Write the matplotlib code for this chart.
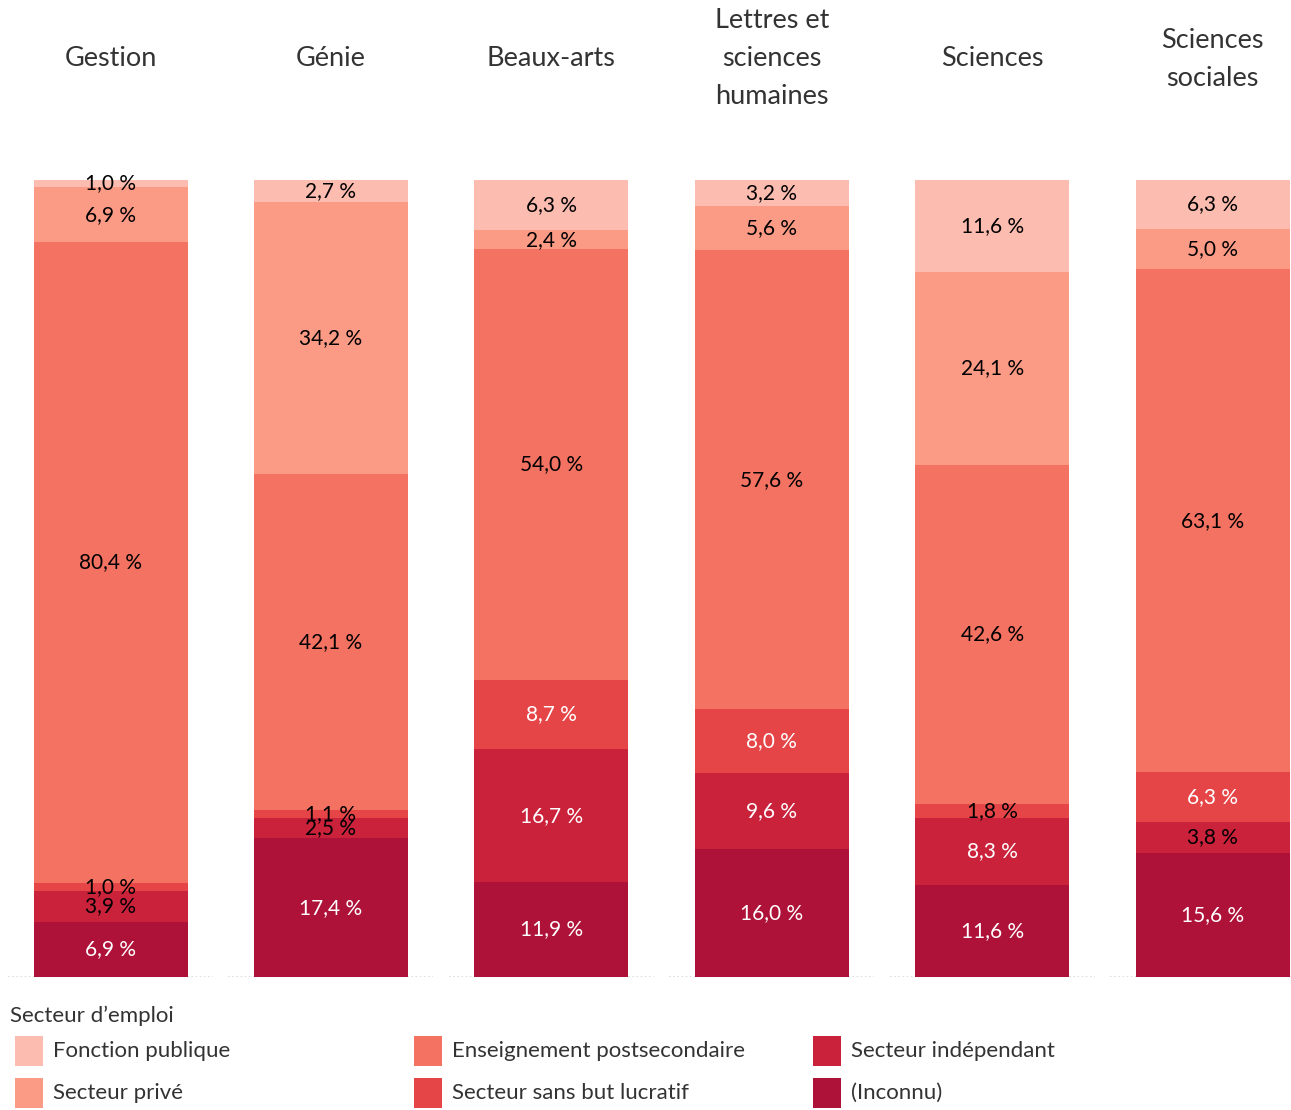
import matplotlib
matplotlib.use("Agg")
import matplotlib.pyplot as plt
from matplotlib.patches import Rectangle

plt.rcParams['font.family'] = ['Lato', 'DejaVu Sans']

# domaines (une colonne par domaine)
domaines = ["Gestion", "Génie", "Beaux-arts", "Lettres et\nsciences\nhumaines",
            "Sciences", "Sciences\nsociales"]

# secteurs, du bas vers le haut de la barre
secteurs = ["(Inconnu)", "Secteur indépendant", "Secteur sans but lucratif",
            "Enseignement postsecondaire", "Secteur privé", "Fonction publique"]

inconnu      = [6.9, 17.4, 11.9, 16.0, 11.6, 15.6]
independant  = [3.9, 2.5, 16.7, 9.6, 8.3, 3.8]
sans_but     = [1.0, 1.1, 8.7, 8.0, 1.8, 6.3]
enseignement = [80.4, 42.1, 54.0, 57.6, 42.6, 63.1]
prive        = [6.9, 34.2, 2.4, 5.6, 24.1, 5.0]
publique     = [1.0, 2.7, 6.3, 3.2, 11.6, 6.3]

valeurs = [inconnu, independant, sans_but, enseignement, prive, publique]
couleurs = ["#ae1238", "#cb223c", "#e64548", "#f47261", "#fb9a85", "#fdbcb0"]

W, H = 1291, 1110
fig = plt.figure(figsize=(W / 100, H / 100), dpi=100)

base_y = 977
top_y = 180
pitch = 220.4
panel_w = 205
bar_w = 154

for i, dom in enumerate(domaines):
    left = 8 + pitch * i
    ax = fig.add_axes([left / W, (H - base_y) / H, panel_w / W, (base_y - top_y) / H])
    ax.set_xlim(0, panel_w)
    ax.set_ylim(0, 100)
    ax.axis('off')
    ax.axhline(0, color="#d9d9d9", lw=1.2, ls=(0, (1, 1.5)), zorder=0)
    bottom = 0
    for k, serie in enumerate(valeurs):
        v = serie[i]
        ax.bar(panel_w / 2, v, width=bar_w, bottom=bottom, color=couleurs[k],
               edgecolor="none", zorder=2)
        col = "white" if (k == 0 or (k in (1, 2) and v >= 5)) else "black"
        ax.text(panel_w / 2, bottom + v / 2, f"{v:.1f} %".replace(".", ","),
                ha="center", va="center", fontsize=15, color=col, zorder=3)
        bottom += v
    fig.text((left + panel_w / 2) / W, 1 - 59 / H, dom, ha="center", va="center",
             fontsize=19.5, color="#333333", linespacing=1.65)

# légende
fig.text(10 / W, 1 - 1016 / H, "Secteur d’emploi", ha="left", va="center",
         fontsize=16, color="#333333")
ordre = ["Fonction publique", "Secteur privé", "Enseignement postsecondaire",
         "Secteur sans but lucratif", "Secteur indépendant", "(Inconnu)"]
for j, nom in enumerate(ordre):
    c = couleurs[secteurs.index(nom)]
    col, row = j // 2, j % 2
    x0 = 15 + 399 * col
    yc = 1051 + 42 * row
    fig.patches.append(Rectangle((x0 / W, 1 - (yc + 15) / H), 28 / W, 30 / H,
                                 transform=fig.transFigure, facecolor=c,
                                 edgecolor="none"))
    fig.text((x0 + 38) / W, 1 - yc / H, nom, ha="left", va="center",
             fontsize=16, color="#333333")

fig.savefig("out.png", dpi=100)
